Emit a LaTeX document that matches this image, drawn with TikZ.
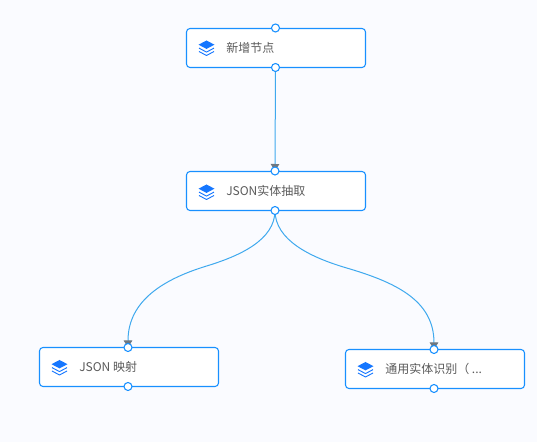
\documentclass[tikz,border=0pt]{standalone}
\usepackage{fontspec}
\setmainfont{Noto Sans CJK SC}
\usetikzlibrary{arrows.meta}
\definecolor{pagebg}{HTML}{FAFBFF}
\definecolor{boxblue}{HTML}{1890FF}
\definecolor{iconblue}{HTML}{1677FF}
\definecolor{linkblue}{HTML}{3FA9EE}
\definecolor{tipgray}{HTML}{6E7780}
\definecolor{labelgray}{HTML}{5A5A5A}
\pgfdeclarelayer{backdrop}
\pgfdeclarelayer{links}
\pgfsetlayers{backdrop,links,main}
\tikzset{
  x=0.75pt,y=-0.75pt,
  flowbox/.style={draw=boxblue,line width=0.8pt,fill=white,rounded corners=2.6pt,minimum width=134.25pt,minimum height=29.25pt,inner sep=0pt},
  port/.style={circle,draw=boxblue,line width=0.8pt,fill=white,minimum size=6pt,inner sep=0pt},
  boxlabel/.style={text=labelgray,font=\fontsize{9pt}{11pt}\selectfont,anchor=west,inner sep=0pt},
  link/.style={draw=linkblue,line width=0.75pt,-{Triangle[length=5.25pt,width=6.4pt,color=tipgray]}},
  pics/layers/.style={code={
    \fill[iconblue] (0,-7) -- (8,-2.8) -- (0,1.4) -- (-8,-2.8) -- cycle;
    \draw[iconblue,line width=0.7pt,line join=round] (-7.5,0.6) -- (0,4.6) -- (7.5,0.6);
    \draw[iconblue,line width=0.7pt,line join=round] (-7.5,4) -- (0,8) -- (7.5,4);
  }}
}
\begin{document}
\begin{tikzpicture}
\begin{pgfonlayer}{backdrop}
\useasboundingbox[fill=pagebg] (0,0) rectangle (537,442);
\end{pgfonlayer}
\node[flowbox] (n1) at (276,48) {};
\node[flowbox] (n2) at (276,191) {};
\node[flowbox] (n3) at (129,367) {};
\node[flowbox] (n4) at (435,369) {};
\node[port] (n1t) at (275.5,28) {};
\node[port] (n1b) at (275.5,67.5) {};
\node[port] (n2t) at (275,171) {};
\node[port] (n2b) at (275,210.5) {};
\node[port] (n3t) at (128,347.5) {};
\node[port] (n3b) at (128,386.5) {};
\node[port] (n4t) at (434,349.5) {};
\node[port] (n4b) at (434,388.5) {};
\pic at (206.5,47.5) {layers};
\pic at (206.5,191.5) {layers};
\pic at (59.5,367) {layers};
\pic at (365.5,369) {layers};
\node[boxlabel] (l1) at (226,47.5) {新增节点};
\node[boxlabel] (l2) at (226,191) {JSON实体抽取};
\node[boxlabel] (l3) at (79,367) {JSON 映射};
\node[boxlabel] (l4) at (385,368.5) {通用实体识别（ ...};
\begin{pgfonlayer}{links}
\draw[link] (n1b.center) -- (n2t.center);
\draw[link] (n2b.center) .. controls (275,240) and (240,256) .. (205,266.5) .. controls (165,279) and (128,300) .. (n3t.center);
\draw[link] (n2b.center) .. controls (275,240) and (310,257) .. (345,267.5) .. controls (395,282) and (434,300) .. (n4t.center);
\end{pgfonlayer}
\end{tikzpicture}
\end{document}
